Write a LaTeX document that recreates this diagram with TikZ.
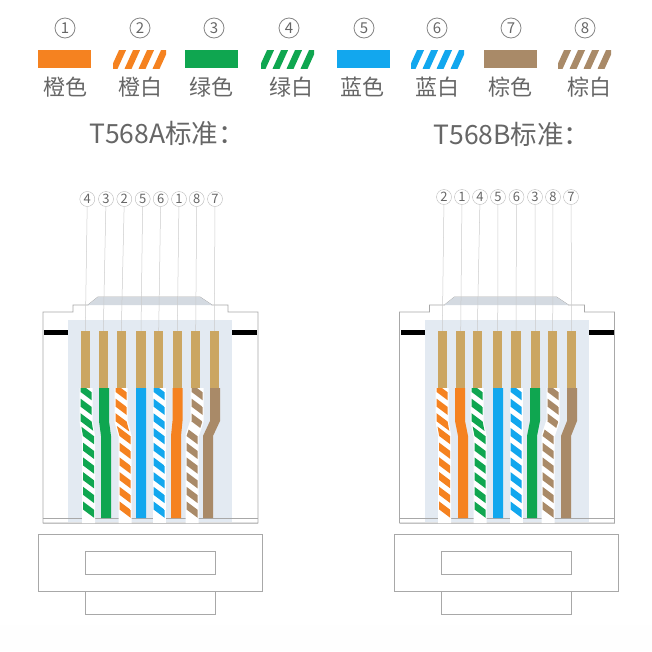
\documentclass[tikz,border=0pt]{standalone}
\usepackage{fontspec}
\setmainfont{Noto Sans CJK SC}
\usetikzlibrary{positioning}

\definecolor{wireorange}{HTML}{F58220}
\definecolor{wiregreen}{HTML}{0FA650}
\definecolor{wireblue}{HTML}{12A7EE}
\definecolor{wirebrown}{HTML}{A98A68}
\definecolor{contactgold}{HTML}{CBA662}
\definecolor{panelblue}{HTML}{E3EAF2}
\definecolor{labelgray}{HTML}{666666}
\definecolor{bodygray}{HTML}{A8A8A8}

% wire from x=#1 at the contact to x=#2 at the crimp, colour #3
\newcommand{\solidwire}[3]{
    \fill[#3] (#1-5,388) -- (#1+5,388) -- (#1+5,421) -- (#2+5,436) -- (#2+5,518)
        -- (#2-5,518) -- (#2-5,436) -- (#1-5,421) -- cycle;
}
\newcommand{\stripewire}[3]{
    \draw[white, line width=13pt] (#1,388) -- (#1,421) -- (#2,436) -- (#2,523);
    \begin{scope}
    \clip (#1-5.5,388) -- (#1+5.5,388) -- (#1+5.5,421) -- (#2+5.5,436) -- (#2+5.5,518)
        -- (#2-5.5,518) -- (#2-5.5,436) -- (#1-5.5,421) -- cycle;
    \foreach \sy in {392,406.7,...,512} {
        \pgfmathsetmacro{\sx}{#1+(#2-#1)*max(0,min(1,(\sy-421)/15))}
        \draw[#3, line width=6.4pt] (\sx-10,\sy-7.5) -- (\sx+10,\sy+7.5);
    }
    \end{scope}
}
% legend swatch with white slanted gaps
\newcommand{\stripeswatch}[2]{
    \begin{scope}
    \clip (#1,50) rectangle ++(53,18);
    \foreach \sk in {1.5,15.5,29.5,43.5} {
        \draw[#2, line width=6.4pt] (#1+\sk-1,70) -- (#1+\sk+9,48);
    }
    \end{scope}
}

\begin{document}
\begin{tikzpicture}[
    x = 1pt, y = -1pt,
    bigmark/.style = {draw=labelgray!80, line width=0.8pt, circle, inner sep=0pt, minimum size=20pt,
        text=labelgray, font=\fontsize{15}{15}\selectfont},
    smallmark/.style = {draw=bodygray!80, circle, inner sep=0pt, minimum size=15pt,
        text=labelgray, font=\fontsize{13}{13}\selectfont},
    colorname/.style = {text=labelgray, inner sep=0pt, font=\fontsize{22}{22}\selectfont},
    titletext/.style = {text=labelgray, inner sep=0pt, font=\fontsize{26.5}{26.5}\selectfont},
    contact/.style = {fill=contactgold, inner sep=0pt, minimum width=9.5pt, minimum height=57pt},
    leader/.style = {draw=bodygray!60, line width=0.5pt},
    outline/.style = {draw=bodygray, line width=0.8pt, fill=white}
    ]

    \useasboundingbox (0,0) rectangle (652,651);
    \fill[gray!1] (0,625) rectangle (652,651);

    % legend
    \foreach \mx/\num in {65/1,140/2,214/3,289/4,364/5,437/6,511/7,585/8}
        \node[bigmark] (leg\num) at (\mx,28) {\num};

    \fill[wireorange] (38,50) rectangle ++(53,18);
    \stripeswatch{113}{wireorange}
    \fill[wiregreen] (185,50) rectangle ++(53,18);
    \stripeswatch{261}{wiregreen}
    \fill[wireblue] (337,50) rectangle ++(53,18);
    \stripeswatch{411}{wireblue}
    \fill[wirebrown] (484,50) rectangle ++(53,18);
    \stripeswatch{558}{wirebrown}

    \node[colorname] (nameA) at (65,87) {橙色};
    \node[colorname] (nameB) at (140,87) {橙白};
    \node[colorname] (nameC) at (211,87) {绿色};
    \node[colorname] (nameD) at (291,87) {绿白};
    \node[colorname] (nameE) at (362,87) {蓝色};
    \node[colorname] (nameF) at (437,87) {蓝白};
    \node[colorname] (nameG) at (510,87) {棕色};
    \node[colorname] (nameH) at (589,87) {棕白};

    \node[titletext] (titleA) at (167,133) {T568A标准：};
    \node[titletext] (titleB) at (512,134) {T568B标准：};

    % the two plug bodies
    \foreach \dx in {0,356.5} {
    \begin{scope}[xshift=\dx pt]
        \draw[outline] (43,523) -- (43,312) -- (73,312) -- (73,305) -- (88,305) -- (98,297)
            -- (200,297) -- (212,305) -- (228,305) -- (228,312) -- (258,312) -- (258,523) -- cycle;
        \fill[panelblue!85!gray] (88,305) -- (98,297) -- (200,297) -- (212,305) -- cycle;
        \fill[panelblue] (68,320) rectangle (232,522);
        \fill[black] (44,330) rectangle (68,334.5);
        \fill[black] (232,330) rectangle (257,334.5);
        \draw[draw=bodygray, line width=0.8pt] (43,518) -- (258,518);
        \draw[draw=bodygray!70, line width=0.6pt] (43,523) -- (258,523);
        \draw[outline] (38,534) rectangle (262,591);
        \draw[outline] (85,551) rectangle (215,574);
        \draw[outline] (85,591) rectangle (215,614);
    \end{scope}
    }

    % T568A
    \foreach \cx/\num in {85.3/4,103.3/3,121.3/2,141/5,158.7/6,177.3/1,195.7/8,214.3/7}
        \node[contact] (ca\num) at (\cx,359.5) {};
    \foreach \mx/\num in {87.3/4,106/3,124.3/2,142.7/5,160.7/6,179/1,196.7/8,215/7}
        \node[smallmark] (ma\num) at (\mx,199) {\num};
    \foreach \num in {1,...,8}
        \draw[leader] (ma\num) -- (ca\num.north);

    \stripewire{86}{88.5}{wiregreen}
    \solidwire{104}{106}{wiregreen}
    \stripewire{121}{125}{wireorange}
    \solidwire{141}{141}{wireblue}
    \stripewire{159}{159}{wireblue}
    \solidwire{177.5}{176}{wireorange}
    \stripewire{197}{192}{wirebrown}
    \solidwire{215}{208}{wirebrown}

    % T568B
    \foreach \cx/\num in {442.3/2,460.7/1,477.3/4,497.7/5,516/6,535.3/3,552.7/8,571.7/7}
        \node[contact] (cb\num) at (\cx,359.5) {};
    \foreach \mx/\num in {444/2,462/1,480/4,498/5,516.5/6,535/3,553/8,571/7}
        \node[smallmark] (mb\num) at (\mx,197) {\num};
    \foreach \num in {1,...,8}
        \draw[leader] (mb\num) -- (cb\num.north);

    \stripewire{442}{444.7}{wireorange}
    \solidwire{460}{463}{wireorange}
    \stripewire{477}{480}{wiregreen}
    \solidwire{498}{498}{wireblue}
    \stripewire{516}{516}{wireblue}
    \solidwire{535}{532}{wiregreen}
    \stripewire{553}{548}{wirebrown}
    \solidwire{572}{566}{wirebrown}

\end{tikzpicture}
\end{document}
